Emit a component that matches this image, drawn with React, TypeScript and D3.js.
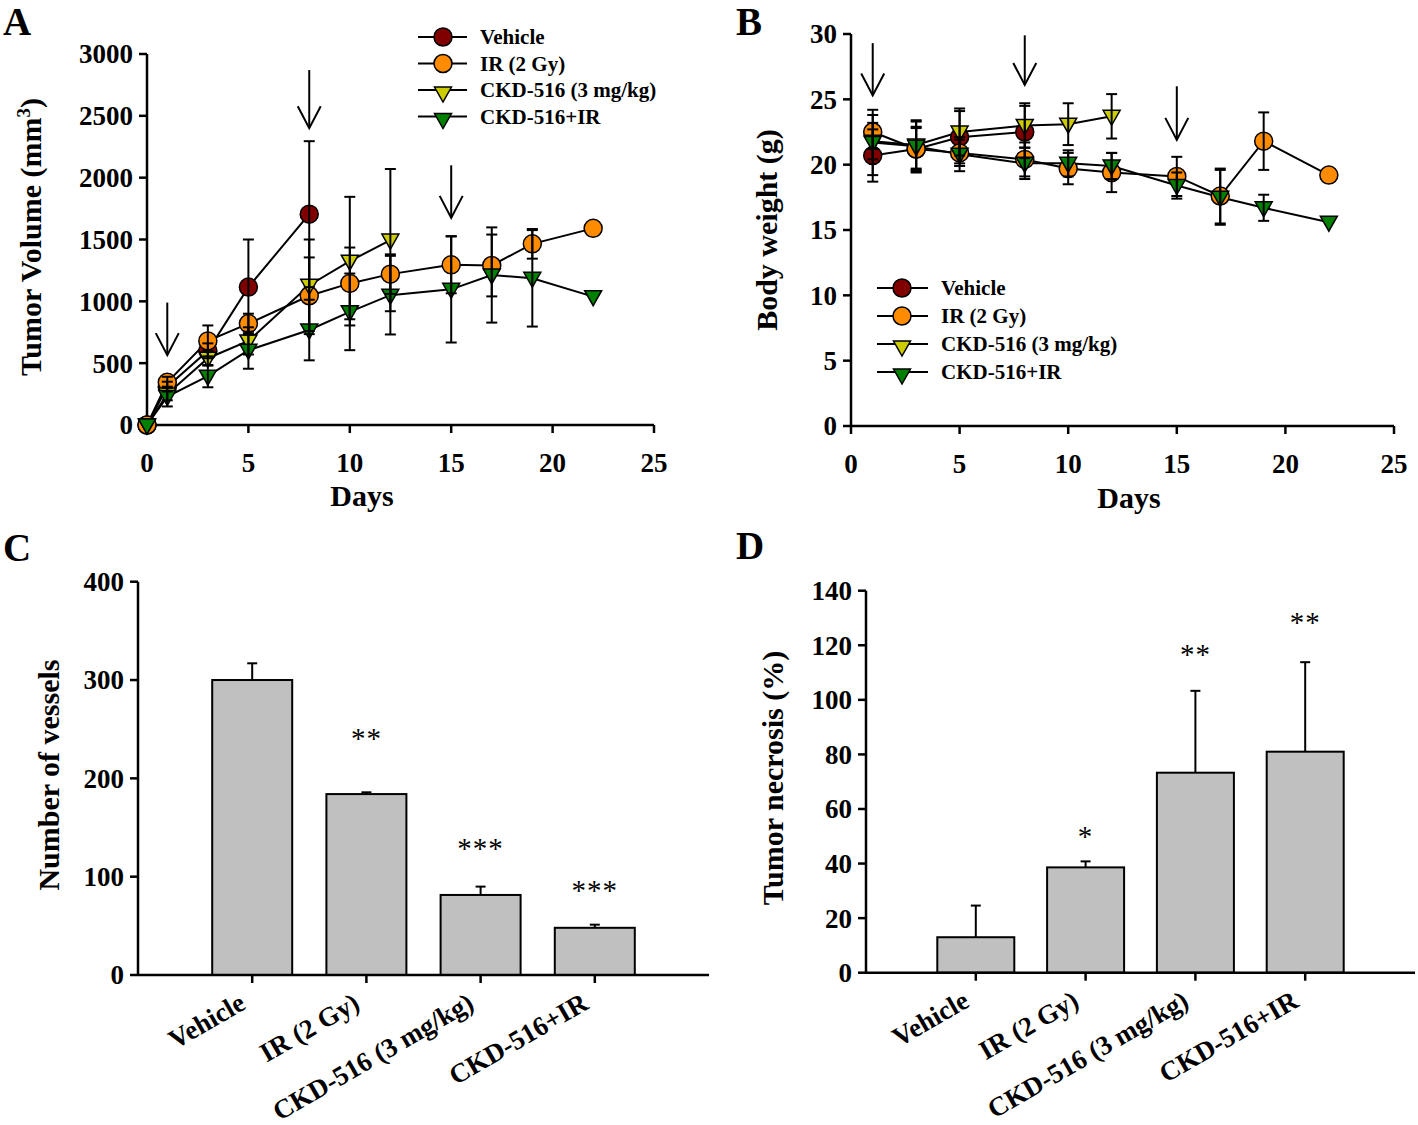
import React from "react";
import * as d3 from "d3";

const FONT = "'Liberation Serif', 'Times New Roman', serif";

const groups = ["Vehicle", "IR (2 Gy)", "CKD-516 (3 mg/kg)", "CKD-516+IR"];
const colors = ["#800000", "#ff8c00", "#cccc00", "#008000"];
const shapes = ["circle", "circle", "triangle", "triangle"];

// A: tumor volume (mm3)
const volDays = [
  [0, 1, 3, 5, 8],
  [0, 1, 3, 5, 8, 10, 12, 15, 17, 19, 22],
  [0, 1, 3, 5, 8, 10, 12],
  [0, 1, 3, 5, 8, 10, 12, 15, 17, 19, 22],
];
const volMean = [
  [0, 310, 600, 1115, 1705],
  [0, 345, 680, 820, 1045, 1145, 1220, 1295, 1290, 1465, 1590],
  [0, 250, 540, 680, 1130, 1325, 1495],
  [0, 230, 395, 605, 768, 915, 1050, 1097, 1213, 1186, 1038],
];
const volErr = [
  [0, 40, 60, 385, 590],
  [0, 45, 125, 80, 310, 290, 160, 230, 250, 120, 0],
  [0, 50, 60, 110, 370, 520, 575],
  [0, 80, 90, 150, 245, 310, 318, 430, 385, 390, 0],
];
const arrowDays = [1, 8, 15];
const volArrowTop = [990, 2870, 2100];
const volArrowTip = [565, 2400, 1675];

// B: body weight (g)
const bwDays = [
  [1, 3, 5, 8],
  [1, 3, 5, 8, 10, 12, 15, 17, 19, 22],
  [1, 3, 5, 8, 10, 12],
  [1, 3, 5, 8, 10, 12, 15, 17, 19, 22],
];
const bwMean = [
  [20.7, 21.2, 22.1, 22.5],
  [22.5, 21.2, 20.9, 20.4, 19.7, 19.4, 19.1, 17.6, 21.8, 19.2],
  [21.8, 21.5, 22.5, 23.0, 23.1, 23.7],
  [21.7, 21.4, 20.8, 20.1, 20.1, 19.9, 18.4, 17.5, 16.7, 15.6],
];
const bwErr = [
  [2.0, 1.7, 2.0, 2.0],
  [1.3, 1.6, 1.0, 1.3, 1.2, 1.5, 1.5, 2.1, 2.2, 0],
  [1.4, 1.8, 1.8, 1.7, 1.6, 1.7],
  [2.5, 2.0, 1.3, 1.2, 1.0, 1.0, 1.0, 2.1, 1.0, 0],
];
const bwArrowTop = [29.3, 29.9, 26.0];
const bwArrowTip = [25.3, 26.1, 21.9];

// C: number of vessels
const vessels = [300, 184, 81.4, 48];
const vesselsErr = [17, 1.8, 8.5, 3.2];
const vesselsStars = ["", "**", "***", "***"];
const vesselsStarAt = [0, 244, 132, 89.5];

// D: tumor necrosis (%)
const necrosis = [13, 38.6, 73.3, 81];
const necrosisErr = [11.6, 2.2, 30, 32.8];
const necrosisStars = ["", "*", "**", "**"];
const necrosisStarAt = [0, 51.3, 117.9, 129.6];

function Marker({ shape, color, cx, cy }: { shape: string; color: string; cx: number; cy: number }) {
  if (shape === "circle") {
    return <circle cx={cx} cy={cy} r={9} fill={color} stroke="#000" strokeWidth={1.5} />;
  }
  return (
    <path
      d={`M${cx - 8.5},${cy - 6}L${cx + 8.5},${cy - 6}L${cx},${cy + 9}Z`}
      fill={color}
      stroke="#000"
      strokeWidth={1.5}
    />
  );
}

function Arrow({ x, y0, y1 }: { x: number; y0: number; y1: number }) {
  return (
    <g stroke="#000" strokeWidth={2} fill="none">
      <line x1={x} y1={y0} x2={x} y2={y1} />
      <path d={`M${x - 11.5},${y1 - 22}L${x},${y1}L${x + 11.5},${y1 - 22}`} />
    </g>
  );
}

type LineProps = {
  x: d3.ScaleLinear<number, number>;
  y: d3.ScaleLinear<number, number>;
  days: number[][];
  mean: number[][];
  err: number[][];
  yTicks: number[];
  arrowTop: number[];
  arrowTip: number[];
  legend: { x0: number; x1: number; mx: number; tx: number; y0: number; step: number };
};

function LinePanel({ x, y, days, mean, err, yTicks, arrowTop, arrowTip, legend }: LineProps) {
  const [x0, x1] = x.range();
  const [yb, yt] = y.range();
  const line = d3
    .line<[number, number]>()
    .x((d) => x(d[0]))
    .y((d) => y(d[1]));
  const pts = days.map((ds, s) => ds.map((d, i) => [d, mean[s][i]] as [number, number]));
  return (
    <g>
      {/* axes */}
      <g stroke="#000" strokeWidth={2.5}>
        <line x1={x0} y1={yb} x2={x1} y2={yb} />
        <line x1={x0} y1={yb + 1} x2={x0} y2={yt} />
        {x.ticks(5).map((t) => (
          <line key={"xt" + t} x1={x(t)} y1={yb} x2={x(t)} y2={yb + 8} />
        ))}
        {yTicks.map((t) => (
          <line key={"yt" + t} x1={x0 - 8} y1={y(t)} x2={x0} y2={y(t)} />
        ))}
      </g>
      <g fontFamily={FONT} fontWeight="bold" fontSize={27}>
        {x.ticks(5).map((t) => (
          <text key={"xl" + t} x={x(t)} y={yb + 47} textAnchor="middle">
            {t}
          </text>
        ))}
        {yTicks.map((t) => (
          <text key={"yl" + t} x={x0 - 14} y={y(t)} dy="0.35em" textAnchor="end">
            {t}
          </text>
        ))}
      </g>
      {/* arrows */}
      {arrowDays.map((d, i) => (
        <Arrow key={"ar" + i} x={x(d)} y0={y(arrowTop[i])} y1={y(arrowTip[i])} />
      ))}
      {/* lines */}
      {pts.map((p, s) => (
        <path key={"ln" + s} d={line(p) || ""} fill="none" stroke="#000" strokeWidth={2} />
      ))}
      {/* markers */}
      {pts.map((p, s) =>
        p.map((d, i) => (
          <Marker key={"mk" + s + "-" + i} shape={shapes[s]} color={colors[s]} cx={x(d[0])} cy={y(d[1])} />
        ))
      )}
      {/* error bars */}
      <g stroke="#000" strokeWidth={2}>
        {pts.map((p, s) =>
          p.map((d, i) => {
            const e = err[s][i];
            if (!e) return null;
            const cx = x(d[0]);
            const hi = y(d[1] + e);
            const lo = y(Math.max(0, d[1] - e));
            return (
              <g key={"eb" + s + "-" + i}>
                <line x1={cx} y1={hi} x2={cx} y2={lo} />
                <line x1={cx - 5.5} y1={hi} x2={cx + 5.5} y2={hi} />
                <line x1={cx - 5.5} y1={lo} x2={cx + 5.5} y2={lo} />
              </g>
            );
          })
        )}
      </g>
      {/* legend */}
      {groups.map((g, s) => {
        const ly = legend.y0 + s * legend.step;
        return (
          <g key={"lg" + s}>
            <line x1={legend.x0} y1={ly} x2={legend.x1} y2={ly} stroke="#000" strokeWidth={2} />
            <Marker shape={shapes[s]} color={colors[s]} cx={legend.mx} cy={shapes[s] === "circle" ? ly : ly + 3} />
            <text x={legend.tx} y={ly} dy="0.35em" fontFamily={FONT} fontWeight="bold" fontSize={21}>
              {g}
            </text>
          </g>
        );
      })}
    </g>
  );
}

type BarProps = {
  y: d3.ScaleLinear<number, number>;
  values: number[];
  errs: number[];
  stars: string[];
  starAt: number[];
  axisX0: number;
  axisX1: number;
  barW: number;
  yTicks: number[];
};

function BarPanel({ y, values, errs, stars, starAt, axisX0, axisX1, barW, yTicks }: BarProps) {
  const step = (axisX1 - axisX0) / (groups.length + 1);
  const x = d3
    .scalePoint<string>()
    .domain(groups)
    .range([axisX0 + step, axisX1 - step]);
  const [yb, yt] = y.range();
  return (
    <g>
      {groups.map((g, i) => {
        const cx = x(g) as number;
        const top = y(values[i] + errs[i]);
        return (
          <g key={"bar" + i}>
            <line x1={cx} y1={y(values[i])} x2={cx} y2={top} stroke="#000" strokeWidth={2} />
            <line x1={cx - 5} y1={top} x2={cx + 5} y2={top} stroke="#000" strokeWidth={2} />
            <rect
              x={cx - barW / 2}
              y={y(values[i])}
              width={barW}
              height={yb - y(values[i])}
              fill="#c0c0c0"
              stroke="#000"
              strokeWidth={2}
            />
            {stars[i] && (
              <text
                x={cx}
                y={y(starAt[i])}
                dy="0.45em"
                textAnchor="middle"
                fontFamily={FONT}
                fontSize={29}
                letterSpacing={1}
              >
                {stars[i]}
              </text>
            )}
            <text
              transform={`translate(${cx - 5},${yb + 33}) rotate(-30)`}
              textAnchor="end"
              fontFamily={FONT}
              fontWeight="bold"
              fontSize={27}
            >
              {g}
            </text>
          </g>
        );
      })}
      <g stroke="#000" strokeWidth={2.5}>
        <line x1={axisX0} y1={yb} x2={axisX1} y2={yb} />
        <line x1={axisX0} y1={yb + 1} x2={axisX0} y2={yt} />
        {groups.map((g) => (
          <line key={"bt" + g} x1={x(g)} y1={yb} x2={x(g)} y2={yb + 8} />
        ))}
        {yTicks.map((t) => (
          <line key={"byt" + t} x1={axisX0 - 8} y1={y(t)} x2={axisX0} y2={y(t)} />
        ))}
      </g>
      <g fontFamily={FONT} fontWeight="bold" fontSize={27}>
        {yTicks.map((t) => (
          <text key={"byl" + t} x={axisX0 - 14} y={y(t)} dy="0.35em" textAnchor="end">
            {t}
          </text>
        ))}
      </g>
    </g>
  );
}

export default function App() {
  const xA = d3.scaleLinear().domain([0, 25]).range([147, 654]);
  const yA = d3.scaleLinear().domain([0, 3000]).range([425, 54]);
  const xB = d3.scaleLinear().domain([0, 25]).range([851, 1394]);
  const yB = d3.scaleLinear().domain([0, 30]).range([426, 34]);
  const yC = d3.scaleLinear().domain([0, 400]).range([975, 581.7]);
  const yD = d3.scaleLinear().domain([0, 140]).range([972.7, 590.7]);

  const title = { fontFamily: FONT, fontWeight: "bold" as const, fontSize: 30 };
  const letter = { fontFamily: FONT, fontWeight: "bold" as const, fontSize: 39 };

  return (
    <svg
      width={1418}
      height={1125}
      style={{ position: "absolute", left: 0, top: 0, background: "#fff" }}
    >
      <rect width={1418} height={1125} fill="#fff" />
      <text x={3} y={35} {...letter}>A</text>
      <text x={736} y={35} {...letter}>B</text>
      <text x={3} y={561} {...letter}>C</text>
      <text x={736} y={559} {...letter}>D</text>

      <LinePanel
        x={xA}
        y={yA}
        days={volDays}
        mean={volMean}
        err={volErr}
        yTicks={d3.range(0, 3001, 500)}
        arrowTop={volArrowTop}
        arrowTip={volArrowTip}
        legend={{ x0: 418, x1: 467, mx: 443, tx: 480, y0: 37, step: 26.5 }}
      />
      <text transform="translate(41,237) rotate(-90)" textAnchor="middle" {...title}>
        Tumor Volume (mm
        <tspan dy={-11} fontSize={19}>3</tspan>
        <tspan dy={11}>)</tspan>
      </text>
      <text x={xA(10.6)} y={506} textAnchor="middle" {...title}>Days</text>

      <LinePanel
        x={xB}
        y={yB}
        days={bwDays}
        mean={bwMean}
        err={bwErr}
        yTicks={d3.range(0, 31, 5)}
        arrowTop={bwArrowTop}
        arrowTip={bwArrowTip}
        legend={{ x0: 877, x1: 928, mx: 902, tx: 941, y0: 288, step: 28 }}
      />
      <text transform="translate(777,230) rotate(-90)" textAnchor="middle" {...title}>
        Body weight (g)
      </text>
      <text x={xB(12.8)} y={508} textAnchor="middle" {...title}>Days</text>

      <BarPanel
        y={yC}
        values={vessels}
        errs={vesselsErr}
        stars={vesselsStars}
        starAt={vesselsStarAt}
        axisX0={138}
        axisX1={709}
        barW={80}
        yTicks={d3.range(0, 401, 100)}
      />
      <text transform="translate(59,775) rotate(-90)" textAnchor="middle" {...title}>
        Number of vessels
      </text>

      <BarPanel
        y={yD}
        values={necrosis}
        errs={necrosisErr}
        stars={necrosisStars}
        starAt={necrosisStarAt}
        axisX0={866}
        axisX1={1415}
        barW={77}
        yTicks={d3.range(0, 141, 20)}
      />
      <text transform="translate(783,778) rotate(-90)" textAnchor="middle" {...title}>
        Tumor necrosis (%)
      </text>
    </svg>
  );
}
